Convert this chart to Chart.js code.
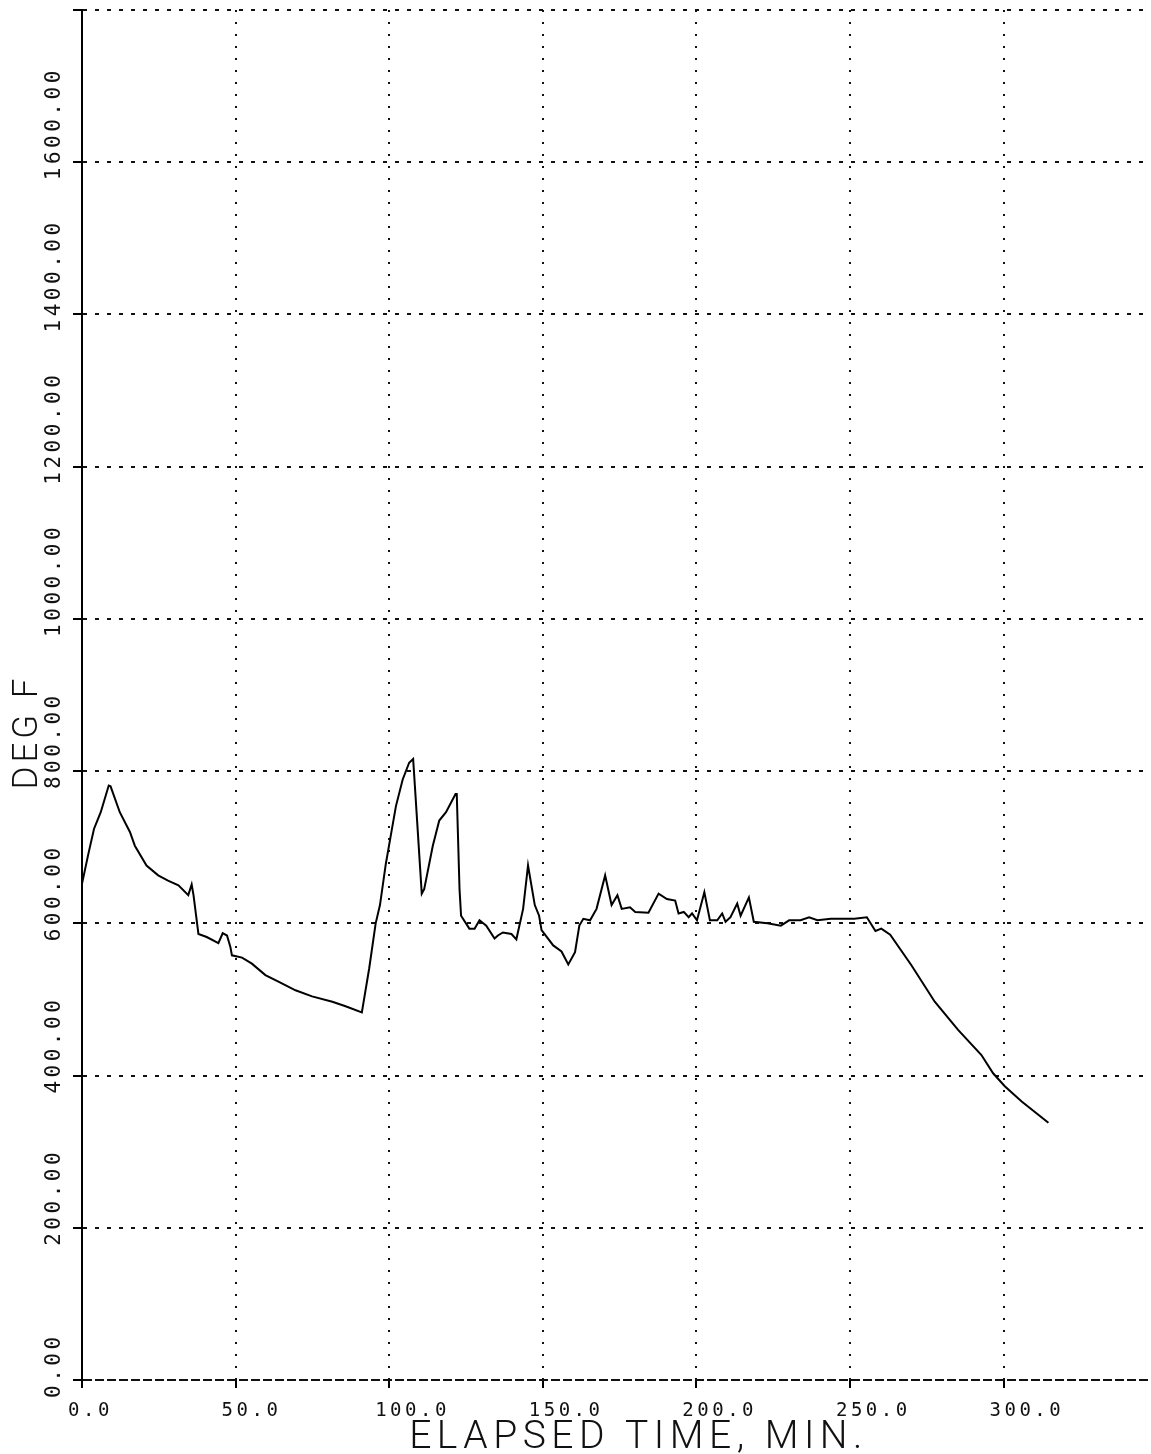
<!DOCTYPE html>
<html>
<head>
<meta charset="utf-8">
<title>Elapsed time chart</title>
<script src="https://cdn.jsdelivr.net/npm/chart.js@4.4.0/dist/chart.umd.min.js"></script>
<style>
  html, body { margin: 0; padding: 0; background: #fff; overflow: hidden; }
  canvas { display: block; }
</style>
</head>
<body>
<canvas id="mycanvas" width="1151" height="1454"></canvas>
<script>
// elapsed time (min) and temperature (deg F)
var times = [0, 2, 3.9, 6.1, 8.7, 9.3, 12.3, 15.6, 17.2, 21.0, 24.8, 28, 31.4, 34.6, 35.7, 36.3,
  37.9, 40.6, 44.4, 45.8, 47.2, 48.3, 48.8, 52.1, 55.3, 59.7, 64.1, 69.5, 74.9, 81.5, 85.8, 91.1,
  93.5, 95.6, 97, 98.9, 100.5, 102.2, 104.4, 106.5, 107.8, 108.5, 110.6, 111.4, 114.2, 116.3, 118.5,
  121.6, 122.0, 122.9, 123.4, 126.1, 127.8, 129.4, 131.6, 134.3, 135.4, 137.0, 139.8, 141.4, 143.6,
  145.2, 147.4, 148.8, 149.6, 153.4, 156.1, 158.3, 160.5, 161.9, 163.2, 165.4, 167.5, 170.3, 172.4,
  174.3, 175.7, 178.4, 180.1, 184.4, 187.7, 190.4, 193.1, 194.2, 195.9, 197.5, 198.6, 200.2, 202.6,
  204.4, 206.8, 208.4, 209.5, 211.1, 213.3, 214.4, 217.1, 218.7, 223.1, 227.5, 230.2, 233.9, 236.7,
  239.4, 243.8, 248.1, 251.4, 255.5, 258.3, 260.2, 263.1, 270.0, 277.6, 285.2, 292.8, 296.6, 300.4,
  305.9, 314.6];
var temps = [652, 690, 724, 746, 781, 780, 746, 720, 702, 676, 663, 656, 650, 637, 651, 637,
  586, 582, 574, 587, 584, 569, 558, 555, 547, 532, 523, 512, 504, 497, 491, 483,
  541, 600, 624, 678, 715, 754, 789, 811, 816, 772, 639, 645, 702, 735, 746,
  770, 770, 645, 610, 593, 593, 604, 597, 580, 584, 588, 586, 579, 619,
  676, 624, 610, 591, 571, 563, 546, 562, 597, 606, 604, 619, 663, 624,
  637, 619, 621, 615, 614, 639, 632, 630, 613, 615, 608, 613, 604, 641,
  604, 604, 613, 602, 608, 626, 610, 634, 602, 600, 597, 604, 604, 608,
  604, 606, 606, 606, 608, 590, 593, 585, 545, 497, 460, 427, 403, 386,
  366, 338];

var xTicks = [0, 50, 100, 150, 200, 250, 300];
var xTickLabels = ['0.0', '50.0', '100.0', '150.0', '200.0', '250.0', '300.0'];
var yTicks = [0, 200, 400, 600, 800, 1000, 1200, 1400, 1600, 1800];
var yTickLabels = ['0.00', '200.00', '400.00', '600.00', '800.00', '1000.00', '1200.00', '1400.00', '1600.00', ''];
var xTitle = 'ELAPSED TIME, MIN.';
var yTitle = 'DEG F';

var points = [];
for (var i in times) {
  points.push({x: times[i], y: temps[i]});
}

var xTickFont = {family: '"DejaVu Sans Mono", monospace', size: 19};
var yTickFont = {family: '"DejaVu Sans Mono", monospace', size: 21};

// axis titles sit off-centre in the original, so they are drawn here
var titles = {
  id: 'titles',
  beforeDraw: function(chart) {
    chart.ctx.letterSpacing = '3.5px';
  },
  afterDraw: function(chart) {
    var ctx = chart.ctx, a = chart.chartArea;
    ctx.save();
    ctx.fillStyle = '#111';
    ctx.textAlign = 'center';
    ctx.textBaseline = 'alphabetic';
    ctx.font = '300 39px Roboto, "Liberation Mono", monospace';
    ctx.letterSpacing = '5.5px';
    ctx.fillText(xTitle, (a.left + a.right) / 2 + 22, a.bottom + 68);
    ctx.translate(a.left - 45, (a.top + a.bottom) / 2 + 37);
    ctx.rotate(-Math.PI / 2);
    ctx.font = '300 35px Roboto, "Liberation Mono", monospace';
    ctx.letterSpacing = '4px';
    ctx.fillText(yTitle, 0, 0);
    ctx.restore();
  }
};

var ctx = document.getElementById('mycanvas');
var chart = new Chart(ctx, {
  type: 'line',
  data: {
    datasets: [{
      data: points,
      borderColor: '#000',
      borderWidth: 2,
      pointRadius: 0,
      tension: 0,
      fill: false
    }]
  },
  plugins: [titles],
  options: {
    responsive: false,
    animation: false,
    devicePixelRatio: 1,
    layout: {padding: {left: 44, top: 10, right: 0, bottom: 0}},
    plugins: {legend: {display: false}, tooltip: {enabled: false}},
    scales: {
      x: {
        type: 'linear',
        min: 0,
        max: 348,
        afterBuildTicks: function(scale) {
          scale.ticks = xTicks.map(function(v) { return {value: v}; });
        },
        afterFit: function(scale) {
          scale.height = 74;
          scale.paddingLeft = 0;
          scale.paddingRight = 0;
        },
        ticks: {
          align: 'start',
          labelOffset: -14,
          padding: 12,
          maxRotation: 0,
          autoSkip: false,
          color: '#111',
          font: xTickFont,
          callback: function(value, index) { return xTickLabels[index]; }
        },
        grid: {
          color: '#111',
          lineWidth: 2,
          tickLength: 8,
          tickColor: '#000',
          tickWidth: 2
        },
        border: {display: false, dash: [2, 10]}
      },
      y: {
        type: 'linear',
        min: 0,
        max: 1800,
        afterBuildTicks: function(scale) {
          scale.ticks = yTicks.map(function(v) { return {value: v}; });
        },
        afterFit: function(scale) {
          scale.width = 38;
          scale.paddingTop = 0;
          scale.paddingBottom = 0;
        },
        ticks: {
          minRotation: 90,
          maxRotation: 90,
          align: 'start',
          crossAlign: 'far',
          labelOffset: 18,
          padding: 0,
          autoSkip: false,
          color: '#111',
          font: yTickFont,
          callback: function(value, index) { return yTickLabels[index]; }
        },
        grid: {
          color: '#111',
          lineWidth: 2,
          tickLength: 9,
          tickColor: '#000',
          tickWidth: 2
        },
        border: {
          display: true,
          color: '#000',
          width: 2,
          dash: function(c) { return c.tick && c.tick.value === 0 ? [9, 3] : [4, 8]; }
        }
      }
    }
  }
});
</script>
</body>
</html>
